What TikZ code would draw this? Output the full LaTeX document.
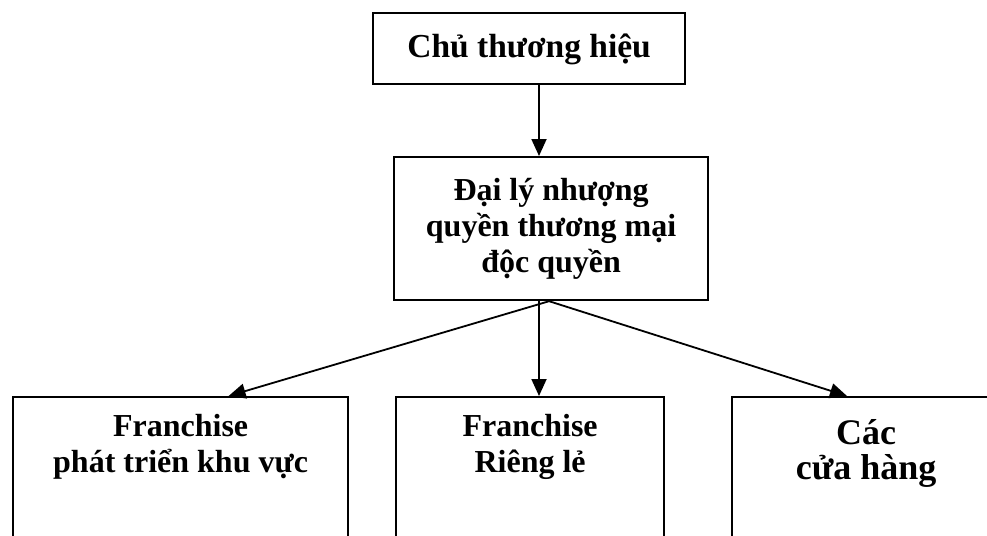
\documentclass[tikz,border=0pt]{standalone}
\usepackage{fontspec}
\setmainfont{Liberation Serif}
\usetikzlibrary{arrows.meta,calc}
\begin{document}
\begin{tikzpicture}[x=1pt,y=-1pt,
  box/.style={draw,line width=2.2pt,inner sep=0pt,anchor=north west},
  title/.style={font=\fontsize{33.5pt}{36pt}\selectfont\bfseries,align=center,inner sep=0pt},
  lbl/.style={font=\fontsize{32pt}{36pt}\selectfont\bfseries,align=center,inner sep=0pt,anchor=base},
  arr/.style={line width=1.8pt,-{Triangle[length=17pt,width=15pt]}}]
  \clip (0,0) rectangle (987,535);
  \fill[white] (0,0) rectangle (987,535);

  % upper levels
  \node[box,minimum width=312pt,minimum height=71pt] (owner) at (372,12) {};
  \node[title] (ownerT) at ($(owner.center)+(0,1)$) {Chủ thương hiệu};
  \node[box,minimum width=314pt,minimum height=143pt] (agent) at (393,156) {};
  \node[lbl,anchor=center] (agentT) at (agent.center) {Đại lý nhượng\\quyền thương mại\\độc quyền};

  % lower level, boxes run past the lower edge
  \node[box,minimum width=335pt,minimum height=170pt] (regional) at (12,396) {};
  \node[box,minimum width=268pt,minimum height=170pt] (single) at (395,396) {};
  \node[box,minimum width=268pt,minimum height=170pt] (stores) at (731,396) {};

  % the base anchor sits on the last line
  \node[lbl] (regionalT) at ($(regional.north)+(0,76)$) {Franchise\\phát triển khu vực};
  \node[lbl] (singleT) at ($(single.north)+(0,76)$) {Franchise\\Riêng lẻ};
  \node[lbl,font=\fontsize{36pt}{35pt}\selectfont\bfseries] (storesT) at ($(stores.north)+(0,83)$) {Các\\cửa hàng};

  % connectors
  \coordinate (vx) at (539,0);
  \draw[arr] (owner.south -| vx) -- (agent.north -| vx);
  \draw[arr] (agent.south -| vx) -- (single.north -| vx);
  \draw[arr] ($(agent.south)+(-2,0)$) -- ($(regional.north)+(48,0)$);
  \draw[arr] ($(agent.south)+(-2,0)$) -- ($(stores.north west)+(116,0)$);
\end{tikzpicture}
\end{document}
